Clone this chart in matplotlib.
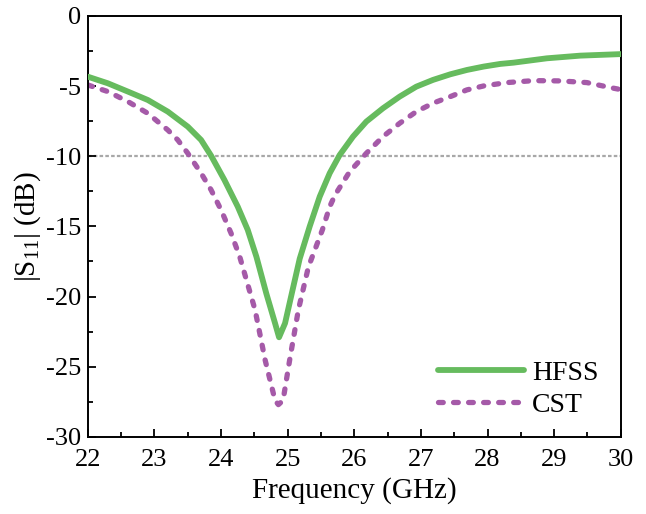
import matplotlib
matplotlib.use("Agg")
import matplotlib.pyplot as plt
from matplotlib.ticker import MultipleLocator

plt.rcParams["font.family"] = ["Liberation Serif", "DejaVu Serif"]
plt.rcParams["mathtext.default"] = "regular"
plt.rcParams["axes.unicode_minus"] = False

# HFSS curve
hfss_f = [22.0, 22.3, 22.6, 22.9, 23.2, 23.5, 23.7, 23.85, 24.05, 24.25,
          24.4, 24.53, 24.68, 24.81, 24.87, 24.96, 25.06, 25.18, 25.33, 25.48,
          25.63, 25.78, 25.98, 26.18, 26.43, 26.68, 26.93, 27.18, 27.44, 27.69,
          27.94, 28.19, 28.39, 28.89, 29.39, 30.0]
hfss_s11 = [-4.33, -4.8, -5.39, -5.99, -6.82, -7.89, -8.84, -9.96, -11.69, -13.59,
            -15.25, -17.16, -19.8, -21.9, -22.9, -21.9, -19.8, -17.3, -15.0, -12.88,
            -11.21, -9.91, -8.6, -7.53, -6.58, -5.75, -5.04, -4.56, -4.16, -3.85,
            -3.61, -3.42, -3.33, -3.02, -2.83, -2.72]

# CST curve
cst_f = [22.0, 22.3, 22.6, 22.9, 23.2, 23.35, 23.5, 23.7, 23.85, 24.0,
         24.15, 24.28, 24.51, 24.66, 24.81, 24.86, 24.93, 25.03, 25.16, 25.31,
         25.52, 25.63, 25.71, 25.93, 26.18, 26.43, 26.68, 26.93, 27.18, 27.44,
         27.69, 27.94, 28.29, 28.69, 29.09, 29.49, 29.89, 30.0]
cst_s11 = [-4.92, -5.39, -6.1, -6.94, -8.13, -8.84, -9.79, -11.21, -12.4, -13.83,
           -15.49, -17.16, -20.95, -24.5, -27.4, -27.7, -27.4, -24.5, -20.95, -17.9,
           -15.25, -13.6, -12.76, -11.1, -9.79, -8.6, -7.65, -6.82, -6.22, -5.75,
           -5.27, -4.99, -4.75, -4.61, -4.63, -4.75, -5.15, -5.25]

fig = plt.figure(figsize=(6.46, 5.14), dpi=100)
ax = fig.add_axes([0.136, 0.150, 0.825, 0.819])

ax.axhline(-10, color="#a8a8a8", lw=1.6, linestyle=(0, (1.6, 1.0)), zorder=1)
ax.plot(hfss_f, hfss_s11, color="#66bb5e", lw=4.2, solid_capstyle="round",
        solid_joinstyle="round", label="HFSS", zorder=3)
ax.plot(cst_f, cst_s11, color="#a55aa8", lw=3.8, linestyle=(0, (0.9, 1.95)),
        dash_capstyle="round", dash_joinstyle="round", label="CST", zorder=2)

ax.set_xlim(22, 30)
ax.set_ylim(-30, 0)
ax.xaxis.set_major_locator(MultipleLocator(1))
ax.xaxis.set_minor_locator(MultipleLocator(0.5))
ax.yaxis.set_major_locator(MultipleLocator(5))
ax.yaxis.set_minor_locator(MultipleLocator(2.5))
ax.tick_params(which="both", direction="in", labelsize=19, width=1.3)
ax.tick_params(which="major", length=6)
ax.tick_params(which="minor", length=3.5)
ax.tick_params(axis="x", which="major", pad=9)
ax.tick_params(axis="y", which="major", pad=5)
for s in ax.spines.values():
    s.set_linewidth(1.4)

ax.set_xlabel("Frequency (GHz)", fontsize=21, labelpad=4)
ax.set_ylabel("|S$_{11}$| (dB)", fontsize=21, labelpad=2)

ax.legend(loc="lower right", bbox_to_anchor=(0.99, 0.005), frameon=False,
          fontsize=20, handlelength=3.1, handletextpad=0.3, borderaxespad=0.2,
          labelspacing=0.25)

plt.savefig("out.png", dpi=100)
